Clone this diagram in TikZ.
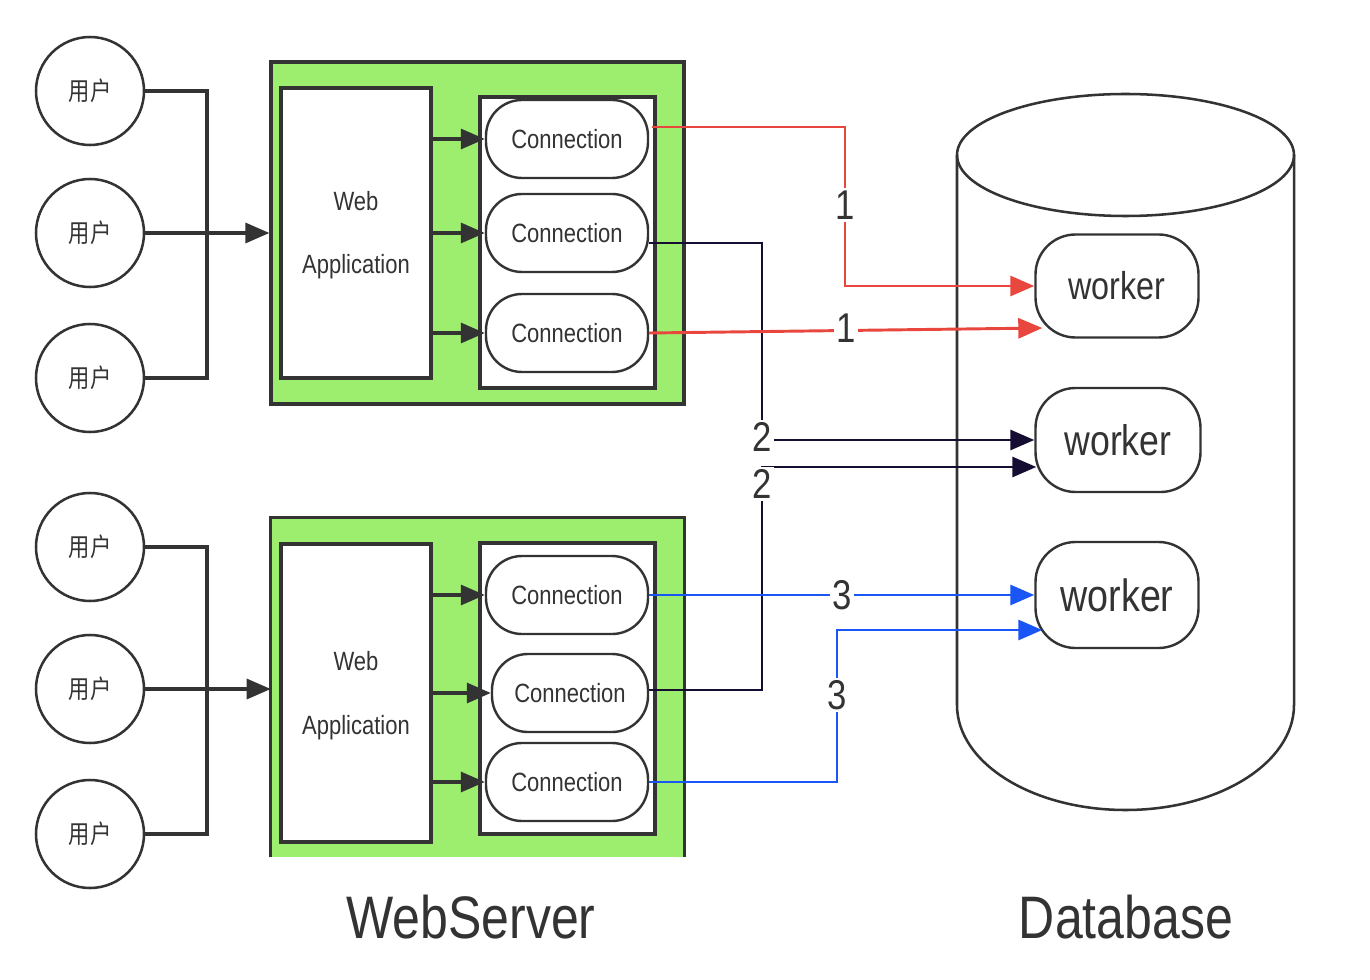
\documentclass[tikz,border=0pt]{standalone}
\usepackage{fontspec}
\usepackage{graphicx}
\setmainfont{Liberation Sans}
\newfontfamily\cjk{Noto Sans CJK SC}
\usetikzlibrary{arrows.meta,calc}
\definecolor{ink}{RGB}{51,51,51}
\definecolor{gfill}{RGB}{157,238,110}
\definecolor{cred}{RGB}{233,70,62}
\definecolor{cnavy}{RGB}{22,14,50}
\definecolor{cblue}{RGB}{26,86,245}
\newcommand{\vs}[1]{\scalebox{1}[1.2]{#1}}
\begin{document}
\begin{tikzpicture}[x=0.75pt,y=-0.75pt,
  user/.style={circle,draw=ink,line width=1.9pt,fill=white,minimum size=81pt,inner sep=0pt,
    font=\cjk\fontsize{16}{18}\selectfont,text=ink},
  greenbox/.style={rectangle,fill=gfill,inner sep=0pt},
  appbox/.style={rectangle,draw=ink,fill=white,line width=2.4pt,inner sep=0pt,align=center,
    font=\fontsize{16.5}{48}\selectfont,text=ink,minimum width=112.5pt},
  poolbox/.style={rectangle,draw=ink,fill=white,line width=2.4pt,inner sep=0pt,
    minimum width=131.25pt,minimum height=218.25pt},
  connbox/.style={rectangle,rounded corners=27pt,draw=ink,fill=white,line width=1.8pt,inner sep=0pt,
    minimum width=121.5pt,minimum height=58.5pt,font=\fontsize{16.5}{20}\selectfont,text=ink},
  workerbox/.style={rectangle,rounded corners=30pt,draw=ink,fill=white,line width=1.8pt,inner sep=0pt,text=ink},
  tip/.style={-{Triangle[length=18pt,width=15pt]}},
  blackline/.style={draw=ink,line width=2.4pt},
  redline/.style={draw=cred,line width=2.2pt},
  navyline/.style={draw=cnavy,line width=2.2pt},
  blueline/.style={draw=cblue,line width=2.2pt},
  numlabel/.style={fill=white,inner sep=2pt,text=ink,font=\fontsize{26}{30}\selectfont},
  title/.style={inner sep=0pt,text=ink,font=\fontsize{37.5}{44}\selectfont}
]
\fill[white] (0,0) rectangle (1370,980);
\useasboundingbox (0,0) rectangle (1370,980);

% users
\node[user] (u1) at (90,91)  {\vs{用户}};
\node[user] (u2) at (90,233) {\vs{用户}};
\node[user] (u3) at (90,378) {\vs{用户}};
\node[user] (u4) at (90,547) {\vs{用户}};
\node[user] (u5) at (90,689) {\vs{用户}};
\node[user] (u6) at (90,834) {\vs{用户}};

% web servers
\node[greenbox,draw=ink,line width=2.4pt,minimum width=309.75pt,minimum height=256.5pt] (g1) at (477.5,233) {};
\node[greenbox,minimum width=309.75pt,minimum height=254.25pt] (g2) at (477.5,687.5) {};
\draw[ink,line width=2.4pt] (g2.south west) -- (g2.north west) -- (g2.north east) -- (g2.south east);

\node[appbox,minimum height=217.5pt] (w1) at (356,233) {};
\node[appbox,minimum height=223.5pt] (w2) at (356,693) {};
\node[text=ink,font=\fontsize{16.5}{20}\selectfont,inner sep=0pt] (w1a) at (356,201) {\vs{Web}};
\node[text=ink,font=\fontsize{16.5}{20}\selectfont,inner sep=0pt,anchor=base] (w1b) at (356,274) {\vs{Application}};
\node[text=ink,font=\fontsize{16.5}{20}\selectfont,inner sep=0pt] (w2a) at (356,661) {\vs{Web}};
\node[text=ink,font=\fontsize{16.5}{20}\selectfont,inner sep=0pt,anchor=base] (w2b) at (356,734) {\vs{Application}};

\node[poolbox] (k1) at (567.5,242.5) {};
\node[poolbox] (k2) at (567.5,688.5) {};

\node[connbox] (c1) at (567,139) {\vs{Connection}};
\node[connbox] (c2) at (567,233) {\vs{Connection}};
\node[connbox] (c3) at (567,333) {\vs{Connection}};
\node[connbox] (c4) at (567,595) {\vs{Connection}};
\node[connbox,minimum width=117pt] (c5) at (570,693) {\vs{Connection}};
\node[connbox] (c6) at (567,782) {\vs{Connection}};

% database cylinder
\draw[ink,line width=1.9pt,fill=white] (957,155) -- (957,705)
  .. controls (957,763) and (1032.4,810) .. (1125.5,810)
  .. controls (1218.6,810) and (1294,763) .. (1294,705) -- (1294,155);
\draw[ink,line width=1.9pt] (1125.5,155) ellipse [x radius=168.5, y radius=61];

\node[workerbox,minimum width=122.25pt,minimum height=77.25pt,font=\fontsize{24.25}{28}\selectfont] (wk1) at (1117,286) {\vs{worker}};
\node[workerbox,minimum width=123.75pt,minimum height=78pt,font=\fontsize{26.75}{30}\selectfont] (wk2) at (1118,440) {\vs{worker}};
\node[workerbox,minimum width=122.25pt,minimum height=79.5pt,font=\fontsize{28.25}{32}\selectfont] (wk3) at (1117,595) {\vs{worker}};

% user connectors
\coordinate (j1) at (207,233);
\coordinate (j2) at (207,689);
\draw[blackline] (u1.east) -| (j1);
\draw[blackline] (u3.east) -| (j1);
\draw[blackline,tip] (u2.east) -- (g1.west |- u2);
\draw[blackline] (u4.east) -| (j2);
\draw[blackline] (u6.east) -| (j2);
\draw[blackline,tip] (u5.east) -- (g2.west |- u5);

% app to connections
\draw[blackline,tip] (w1.east |- c1) -- (c1.west);
\draw[blackline,tip] (w1.east |- c2) -- (c2.west);
\draw[blackline,tip] (w1.east |- c3) -- (c3.west);
\draw[blackline,tip] (w2.east |- c4) -- (c4.west);
\draw[blackline,tip] (w2.east |- c5) -- (c5.west);
\draw[blackline,tip] (w2.east |- c6) -- (c6.west);

% connections to workers
\coordinate (n1) at (762,440);
\coordinate (n2) at (762,467);
\draw[navyline,tip] ($(c2.east)+(0,10)$) -| (n1) -- (wk2.west);
\draw[navyline,tip] ($(c5.east)+(0,-3)$) -| (n2) -- ($(wk2.west)+(2,27)$);

\coordinate (r1) at (845,286);
\draw[redline,tip] ($(c1.east)+(3,-12)$) -| (r1) -- (wk1.west);
\draw[redline,tip] (c3.east) -- ($(wk1.west)+(8,42)$);

\coordinate (b1) at (837,630);
\draw[blueline,tip] (c4.east) -- (wk3.west);
\draw[blueline,tip] (c6.east) -| (b1) -- ($(wk3.west)+(8,35)$);

% labels
\node[numlabel] (l1a) at (845,205) {\vs{1}};
\node[numlabel] (l1b) at (846,328) {\vs{1}};
\node[numlabel] (l2a) at (762,437) {\vs{2}};
\node[numlabel] (l2b) at (762,484) {\vs{2}};
\node[numlabel] (l3a) at (842,595) {\vs{3}};
\node[numlabel] (l3b) at (837,695) {\vs{3}};

\node[title] (tws) at (471,917) {\vs{WebServer}};
\node[title] (tdb) at (1126,917) {\vs{Database}};
\end{tikzpicture}
\end{document}
